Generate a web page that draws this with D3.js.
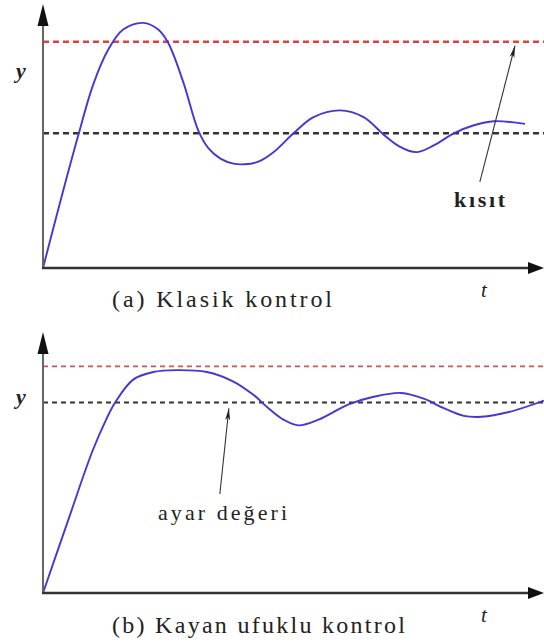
<!DOCTYPE html>
<html>
<head>
<meta charset="utf-8">
<script src="https://cdn.jsdelivr.net/npm/d3@7"></script>
<style>
  html, body { margin: 0; padding: 0; background: #fff; }
  svg { display: block; }
  text { font-family: "Liberation Serif", "DejaVu Serif", serif; fill: #222; }
</style>
</head>
<body>
<svg id="chart" width="544" height="643"></svg>
<script>
// ---- data (t: time, y: output relative to set-point = 1) ----
const timeA = [0, 0.35, 0.70, 1.00, 1.30, 1.60, 2.00, 2.30, 2.50, 2.80, 3.10, 3.30, 3.55, 3.80, 4.03, 4.30, 4.60, 5.00, 5.40, 5.93, 6.40, 6.80, 7.10, 7.45, 7.80, 8.20, 8.60, 9.00, 9.62];
const outputA = [0, 0.50, 0.98, 1.36, 1.62, 1.77, 1.82, 1.77, 1.67, 1.38, 1.02, 0.89, 0.81, 0.775, 0.77, 0.79, 0.86, 1.00, 1.12, 1.17, 1.12, 0.99, 0.905, 0.86, 0.91, 1.00, 1.06, 1.09, 1.07];
const timeB = [0, 0.50, 0.98, 1.26, 1.44, 1.80, 2.20, 2.67, 3.27, 3.80, 4.20, 4.50, 4.80, 5.10, 5.50, 6.10, 6.60, 7.15, 7.60, 8.00, 8.40, 8.75, 9.30, 10.0];
const outputB = [0, 0.38, 0.74, 0.91, 1.00, 1.12, 1.16, 1.17, 1.16, 1.11, 1.04, 0.97, 0.91, 0.88, 0.91, 0.99, 1.03, 1.05, 1.02, 0.97, 0.93, 0.925, 0.95, 1.01];
const setpoint = [1.0, 1.0];
const constraint = [1.68, 1.19];
const yMax = [1.96, 1.37];
const captions = ["(a) Klasik kontrol", "(b) Kayan ufuklu kontrol"];
const annotations = ["kısıt", "ayar değeri"];
const axisLabels = ["y", "t"];

const svg = d3.select("#chart");

const panels = [
  { t: timeA, v: outputA, y0: 268, y1: 4, caption: captions[0], capX: [112, 332], capY: 307,
    yLabelY: 78, tLabelY: 297, redW: 2.6, blackW: 2.6, dash: "6,4", redCol: "#e0413f",
    ann: { text: annotations[0], from: [8.72, 0.64], to: [9.42, 1.65], tx: 479.5, ty: 207, weight: "bold", len: 51, size: 22 } },
  { t: timeB, v: outputB, y0: 593, y1: 332, caption: captions[1], capX: [112, 405], capY: 633,
    yLabelY: 404, tLabelY: 622, redW: 1.8, blackW: 1.8, dash: "5,4", redCol: "#d9504e",
    ann: { text: annotations[1], from: [3.53, 0.52], to: [3.71, 0.97], tx: 222.5, ty: 520, weight: "normal", len: 129, size: 22 } }
];

const defs = svg.append("defs");
defs.append("marker").attr("id", "thinHead").attr("viewBox", "0 0 12 6")
  .attr("refX", 12).attr("refY", 3).attr("markerWidth", 12).attr("markerHeight", 6)
  .attr("markerUnits", "userSpaceOnUse").attr("orient", "auto")
  .append("path").attr("d", "M0,0.5 L12,3 L0,5.5 L3,3 Z").attr("fill", "#222");

panels.forEach((p, i) => {
  const x = d3.scaleLinear().domain([0, 10]).range([43, 544]);
  const y = d3.scaleLinear().domain([0, yMax[i]]).range([p.y0, p.y1]);
  const g = svg.append("g");

  // reference lines
  g.append("line").attr("x1", x(0)).attr("x2", x(10))
    .attr("y1", y(constraint[i])).attr("y2", y(constraint[i]))
    .attr("stroke", p.redCol).attr("stroke-width", p.redW).attr("stroke-dasharray", p.dash);
  g.append("line").attr("x1", x(0)).attr("x2", x(10))
    .attr("y1", y(setpoint[i])).attr("y2", y(setpoint[i]))
    .attr("stroke", "#333").attr("stroke-width", p.blackW).attr("stroke-dasharray", p.dash);

  // response curve
  const pts = p.t.map((t, k) => [t, p.v[k]]);
  g.append("path").datum(pts)
    .attr("d", d3.line().x(d => x(d[0])).y(d => y(d[1])).curve(d3.curveCatmullRom.alpha(0.5)))
    .attr("fill", "none").attr("stroke", "#4536d6").attr("stroke-width", 1.9);

  // axes
  g.append("line").attr("x1", x(0)).attr("x2", x(0)).attr("y1", y(0) + 1).attr("y2", y(yMax[i]) + 18)
    .attr("stroke", "#666").attr("stroke-width", 2);
  g.append("path")
    .attr("d", `M${x(0)},${y(yMax[i])} L${x(0) - 5.5},${y(yMax[i]) + 22} L${x(0) + 5.5},${y(yMax[i]) + 22} Z`)
    .attr("fill", "#111");
  g.append("line").attr("x1", x(0) - 1).attr("x2", x(10) - 14).attr("y1", y(0)).attr("y2", y(0))
    .attr("stroke", "#333").attr("stroke-width", 2.4);
  g.append("path")
    .attr("d", `M${x(10)},${y(0)} L${x(10) - 16},${y(0) - 6} L${x(10) - 16},${y(0) + 6} Z`)
    .attr("fill", "#111");

  // axis labels
  g.append("text").attr("x", 21).attr("y", p.yLabelY).attr("text-anchor", "middle")
    .attr("font-size", 22).attr("font-style", "italic").attr("font-weight", "bold").text(axisLabels[0]);
  g.append("text").attr("x", 484).attr("y", p.tLabelY).attr("text-anchor", "middle")
    .attr("font-size", 21).attr("font-style", "italic").text(axisLabels[1]);

  // annotation arrow + text
  g.append("line").attr("x1", x(p.ann.from[0])).attr("y1", y(p.ann.from[1]))
    .attr("x2", x(p.ann.to[0])).attr("y2", y(p.ann.to[1]))
    .attr("stroke", "#333").attr("stroke-width", 1.1).attr("marker-end", "url(#thinHead)");
  g.append("text").attr("x", p.ann.tx).attr("y", p.ann.ty).attr("text-anchor", "middle")
    .attr("font-size", p.ann.size).attr("font-weight", p.ann.weight)
    .attr("textLength", p.ann.len).attr("lengthAdjust", "spacing").text(p.ann.text);

  // caption
  g.append("text").attr("x", p.capX[0]).attr("y", p.capY)
    .attr("font-size", 24).attr("textLength", p.capX[1] - p.capX[0]).attr("lengthAdjust", "spacing")
    .text(p.caption);
});
</script>
</body>
</html>
